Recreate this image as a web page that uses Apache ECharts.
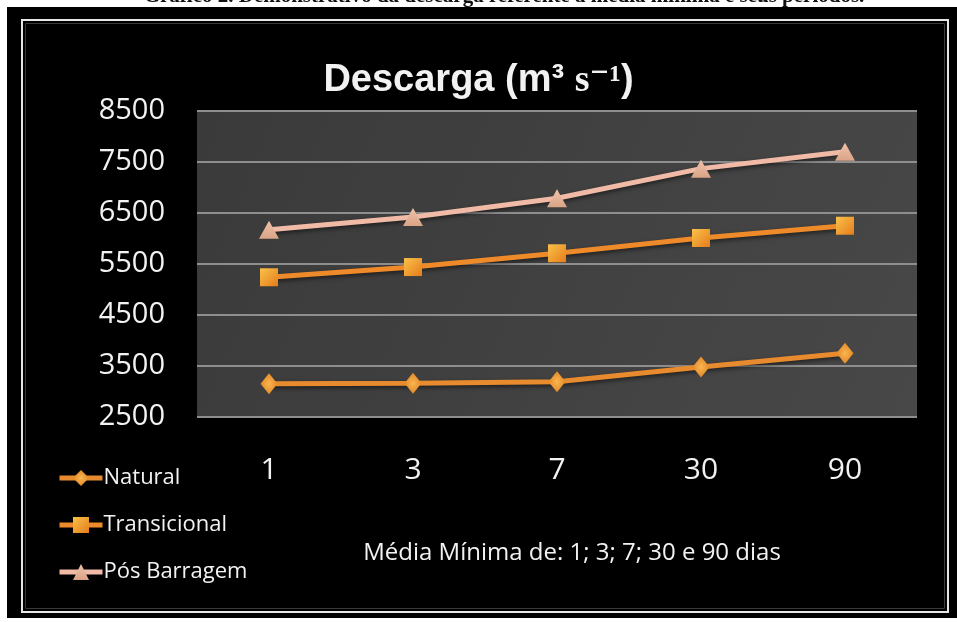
<!DOCTYPE html>
<html>
<head>
<meta charset="utf-8">
<script src="https://cdn.jsdelivr.net/npm/echarts@6/dist/echarts.min.js"></script>
<style>
  html, body { margin: 0; padding: 0; background: #ffffff; }
  #chart { width: 957px; height: 622px; }
</style>
</head>
<body>
<div id="chart"></div>
<script>
// Minimum-average periods (days)
const periods = ['1', '3', '7', '30', '90'];

// Discharge (m³ s⁻¹) for each regime
const naturalValues = [3150, 3160, 3190, 3480, 3750];
const transicionalValues = [5240, 5440, 5710, 6010, 6250];
const posBarragemValues = [6170, 6420, 6790, 7370, 7700];

// Value axis range
const yMin = 2500;
const yMax = 8500;
const yStep = 1000;

const FONT = '"Open Sans", "DejaVu Sans", sans-serif';
const TEXT = '#f2f2f2';

const chart = echarts.init(document.getElementById('chart'), null, { renderer: 'canvas' });

const lineShadow = {
  shadowColor: 'rgba(0,0,0,0.55)',
  shadowBlur: 4,
  shadowOffsetY: 2
};

chart.setOption({
  backgroundColor: '#ffffff',
  animation: false,
  graphic: [
    {
      type: 'text',
      z: -20,
      style: {
        text: 'Gráfico 2. Demonstrativo da descarga referente à média mínima e seus períodos.',
        x: 504,
        y: -3.5,
        align: 'center',
        verticalAlign: 'middle',
        font: 'bold 21px "Liberation Serif", "DejaVu Serif", serif',
        fill: '#111111'
      }
    },
    {
      type: 'rect',
      z: -10,
      shape: { x: 7, y: 7, width: 950, height: 611 },
      style: { fill: '#000000' }
    },
    {
      type: 'rect',
      z: -9,
      shape: { x: 22, y: 20, width: 926, height: 592 },
      style: { fill: null, stroke: '#e6e6e6', lineWidth: 2 }
    },
    {
      type: 'rect',
      z: -9,
      shape: { x: 25.5, y: 23.5, width: 919, height: 585 },
      style: { fill: null, stroke: '#3a3a3a', lineWidth: 1 }
    }
  ],
  title: {
    text: '{a|Descarga (m³ }{b|s⁻¹}{a|)}',
    left: 'center',
    top: 57,
    textStyle: {
      rich: {
        a: { fontFamily: '"Liberation Sans", Arial, sans-serif', fontWeight: 'bold', fontSize: 38, color: TEXT },
        b: { fontFamily: '"Liberation Serif", "DejaVu Serif", serif', fontWeight: 'bold', fontSize: 38, color: TEXT }
      }
    }
  },
  legend: {
    orient: 'vertical',
    left: 52,
    top: 462,
    itemWidth: 43,
    itemHeight: 20,
    itemGap: 25,
    data: ['Natural', 'Transicional', 'Pós Barragem'],
    lineStyle: { width: 5 },
    textStyle: { color: TEXT, fontFamily: FONT, fontSize: 22, padding: [0, 0, 0, -4] }
  },
  grid: {
    left: 197,
    right: 40,
    top: 111,
    bottom: 205,
    show: true,
    borderWidth: 0,
    backgroundColor: {
      type: 'linear', x: 0, y: 0, x2: 1, y2: 1,
      colorStops: [
        { offset: 0, color: '#3a3a3a' },
        { offset: 1, color: '#484848' }
      ]
    }
  },
  xAxis: {
    type: 'category',
    data: periods,
    boundaryGap: true,
    axisLine: { show: false },
    axisTick: { show: false },
    axisLabel: { color: TEXT, fontFamily: FONT, fontSize: 30, margin: 38 },
    name: 'Média Mínima de: 1; 3; 7; 30 e 90 dias',
    nameLocation: 'middle',
    nameGap: 124,
    nameTextStyle: { color: TEXT, fontFamily: FONT, fontSize: 24, padding: [0, 0, 0, 30] }
  },
  yAxis: {
    type: 'value',
    min: yMin,
    max: yMax,
    interval: yStep,
    axisLine: { show: false },
    axisTick: { show: false },
    axisLabel: {
      color: TEXT, fontFamily: FONT, fontSize: 29, margin: 32,
      formatter: (v) => String(v)
    },
    splitLine: { lineStyle: { color: '#8e8e8e', width: 2 } }
  },
  series: [
    {
      name: 'Natural',
      type: 'line',
      data: naturalValues,
      symbol: 'diamond',
      symbolSize: [17, 21],
      lineStyle: Object.assign({ color: '#e88a2e', width: 5 }, lineShadow),
      itemStyle: {
        color: {
          type: 'radial', x: 0.5, y: 0.5, r: 0.6,
          colorStops: [{ offset: 0, color: '#f8b650' }, { offset: 1, color: '#e0801f' }]
        },
        borderWidth: 0
      }
    },
    {
      name: 'Transicional',
      type: 'line',
      data: transicionalValues,
      symbol: 'rect',
      symbolSize: 18,
      lineStyle: Object.assign({ color: '#ee8a2a', width: 5 }, lineShadow),
      itemStyle: {
        color: {
          type: 'linear', x: 0, y: 0, x2: 1, y2: 1,
          colorStops: [{ offset: 0, color: '#f9c24a' }, { offset: 1, color: '#e67c1c' }]
        },
        borderWidth: 0
      }
    },
    {
      name: 'Pós Barragem',
      type: 'line',
      data: posBarragemValues,
      symbol: 'triangle',
      symbolSize: [20, 18],
      lineStyle: Object.assign({ color: '#f0baa6', width: 5 }, lineShadow),
      itemStyle: {
        color: {
          type: 'linear', x: 0, y: 0, x2: 0, y2: 1,
          colorStops: [{ offset: 0, color: '#f0c2aa' }, { offset: 1, color: '#d9a486' }]
        },
        borderWidth: 0
      }
    }
  ]
});
</script>
</body>
</html>
